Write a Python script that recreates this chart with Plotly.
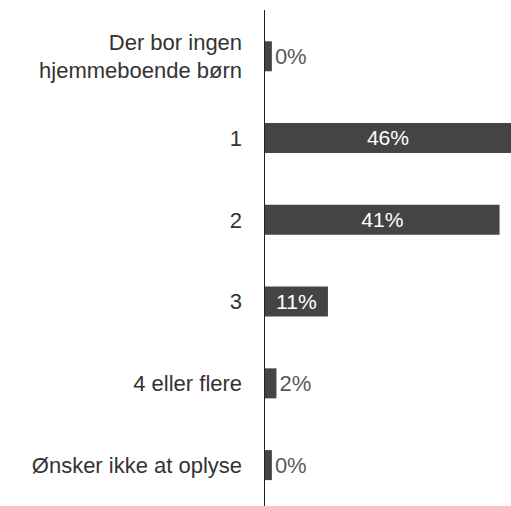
import plotly.graph_objects as go

categories = ["Der bor ingen<br>hjemmeboende børn", "1", "2", "3", "4 eller flere", "Ønsker ikke at oplyse"]
values = [0, 46, 41, 11, 2, 0]
labels = [f"{v}%" for v in values]

XMAX = 43
MIN_BAR = 1.2
display = [min(max(v, MIN_BAR), XMAX) for v in values]

FONT = "Liberation Sans, Arial, sans-serif"

fig = go.Figure(go.Bar(
    y=categories,
    x=display,
    orientation="h",
    marker=dict(color="#444444", line=dict(width=0)),
    width=0.367,
    text=labels,
    textposition="auto",
    insidetextanchor="middle",
    insidetextfont=dict(color="#ffffff", size=22, family=FONT),
    outsidetextfont=dict(color="#595959", size=22, family=FONT),
    textangle=0,
    hoverinfo="skip",
))

fig.update_layout(
    width=511, height=506,
    margin=dict(l=265, r=0, t=10, b=0),
    plot_bgcolor="white", paper_bgcolor="white",
    showlegend=False,
    font=dict(family=FONT, size=22, color="#333333"),
)
fig.update_xaxes(range=[0, XMAX], visible=False, fixedrange=True)
fig.update_yaxes(
    range=[5.5, -0.566],
    showline=True, linecolor="#222222", linewidth=1.5,
    showgrid=False, zeroline=False,
    ticks="", ticklabelstandoff=17,
    tickfont=dict(size=22, color="#333333"),
    fixedrange=True,
)

fig.write_html(
    "out.html",
    config={"displayModeBar": False, "staticPlot": True},
    post_script="document.body.style.margin='0';document.body.style.overflow='hidden';",
)
